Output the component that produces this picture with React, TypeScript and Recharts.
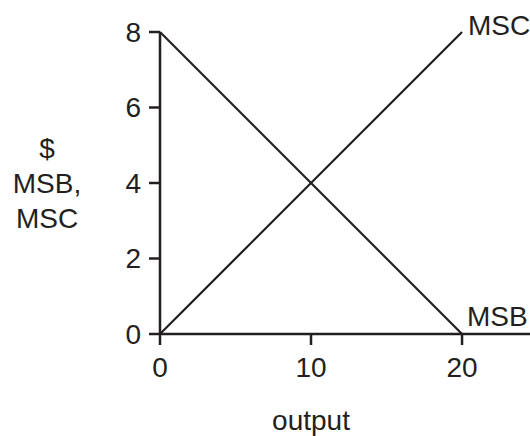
import React from 'react';
import { LineChart, Line, XAxis, YAxis, Label } from 'recharts';

const outputs = [0, 20];
const msbValues = [8, 0];
const mscValues = [0, 8];
const xTicks = [0, 10, 20];
const yTicks = [0, 2, 4, 6, 8];
const yLabelLines = ['$', 'MSB,', 'MSC'];

const data = outputs.map((x, i) => ({ x, msb: msbValues[i], msc: mscValues[i] }));

const INK = '#231f20';
const FONT = '"Liberation Sans", Arial, Helvetica, sans-serif';
const FS = 28;

const endLabel = (name: string, dx: number, dy: number) => (props: any) => {
  if (props.index !== data.length - 1) return null;
  return (
    <text x={props.x + dx} y={props.y + dy} fill={INK} fontSize={FS} fontFamily={FONT} textAnchor="start">
      {name}
    </text>
  );
};

export default function App() {
  return (
    <div style={{ position: 'absolute', left: 0, top: 0, width: 530, height: 436, background: '#fff' }}>
      <LineChart width={530} height={436} data={data} margin={{ top: 32, right: 0, bottom: 0, left: 0 }}>
        <XAxis
          dataKey="x"
          type="number"
          domain={[0, 24.5]}
          ticks={xTicks}
          height={102}
          tickSize={11}
          tickMargin={12}
          axisLine={{ stroke: INK, strokeWidth: 2.5 }}
          tickLine={{ stroke: INK, strokeWidth: 2.5 }}
          tick={{ fill: INK, fontSize: FS, fontFamily: FONT }}
        >
          <Label
            content={() => (
              <text x={311} y={430} fill={INK} fontSize={FS} fontFamily={FONT} textAnchor="middle">
                output
              </text>
            )}
          />
        </XAxis>
        <YAxis
          type="number"
          domain={[0, 8]}
          ticks={yTicks}
          width={160}
          tickSize={11}
          tickMargin={8}
          axisLine={{ stroke: INK, strokeWidth: 2.5 }}
          tickLine={{ stroke: INK, strokeWidth: 2.5 }}
          tick={{ fill: INK, fontSize: FS, fontFamily: FONT }}
        >
          <Label
            content={() => (
              <text x={47} y={158} fill={INK} fontSize={FS} fontFamily={FONT} textAnchor="middle">
                {yLabelLines.map((t, i) => (
                  <tspan key={i} x={47} dy={i === 0 ? 0 : 35}>
                    {t}
                  </tspan>
                ))}
              </text>
            )}
          />
        </YAxis>
        <Line
          dataKey="msb"
          stroke={INK}
          strokeWidth={2.2}
          dot={false}
          activeDot={false}
          isAnimationActive={false}
          label={endLabel('MSB', 5, -8)}
        />
        <Line
          dataKey="msc"
          stroke={INK}
          strokeWidth={2.2}
          dot={false}
          activeDot={false}
          isAnimationActive={false}
          label={endLabel('MSC', 6, 3)}
        />
      </LineChart>
    </div>
  );
}
